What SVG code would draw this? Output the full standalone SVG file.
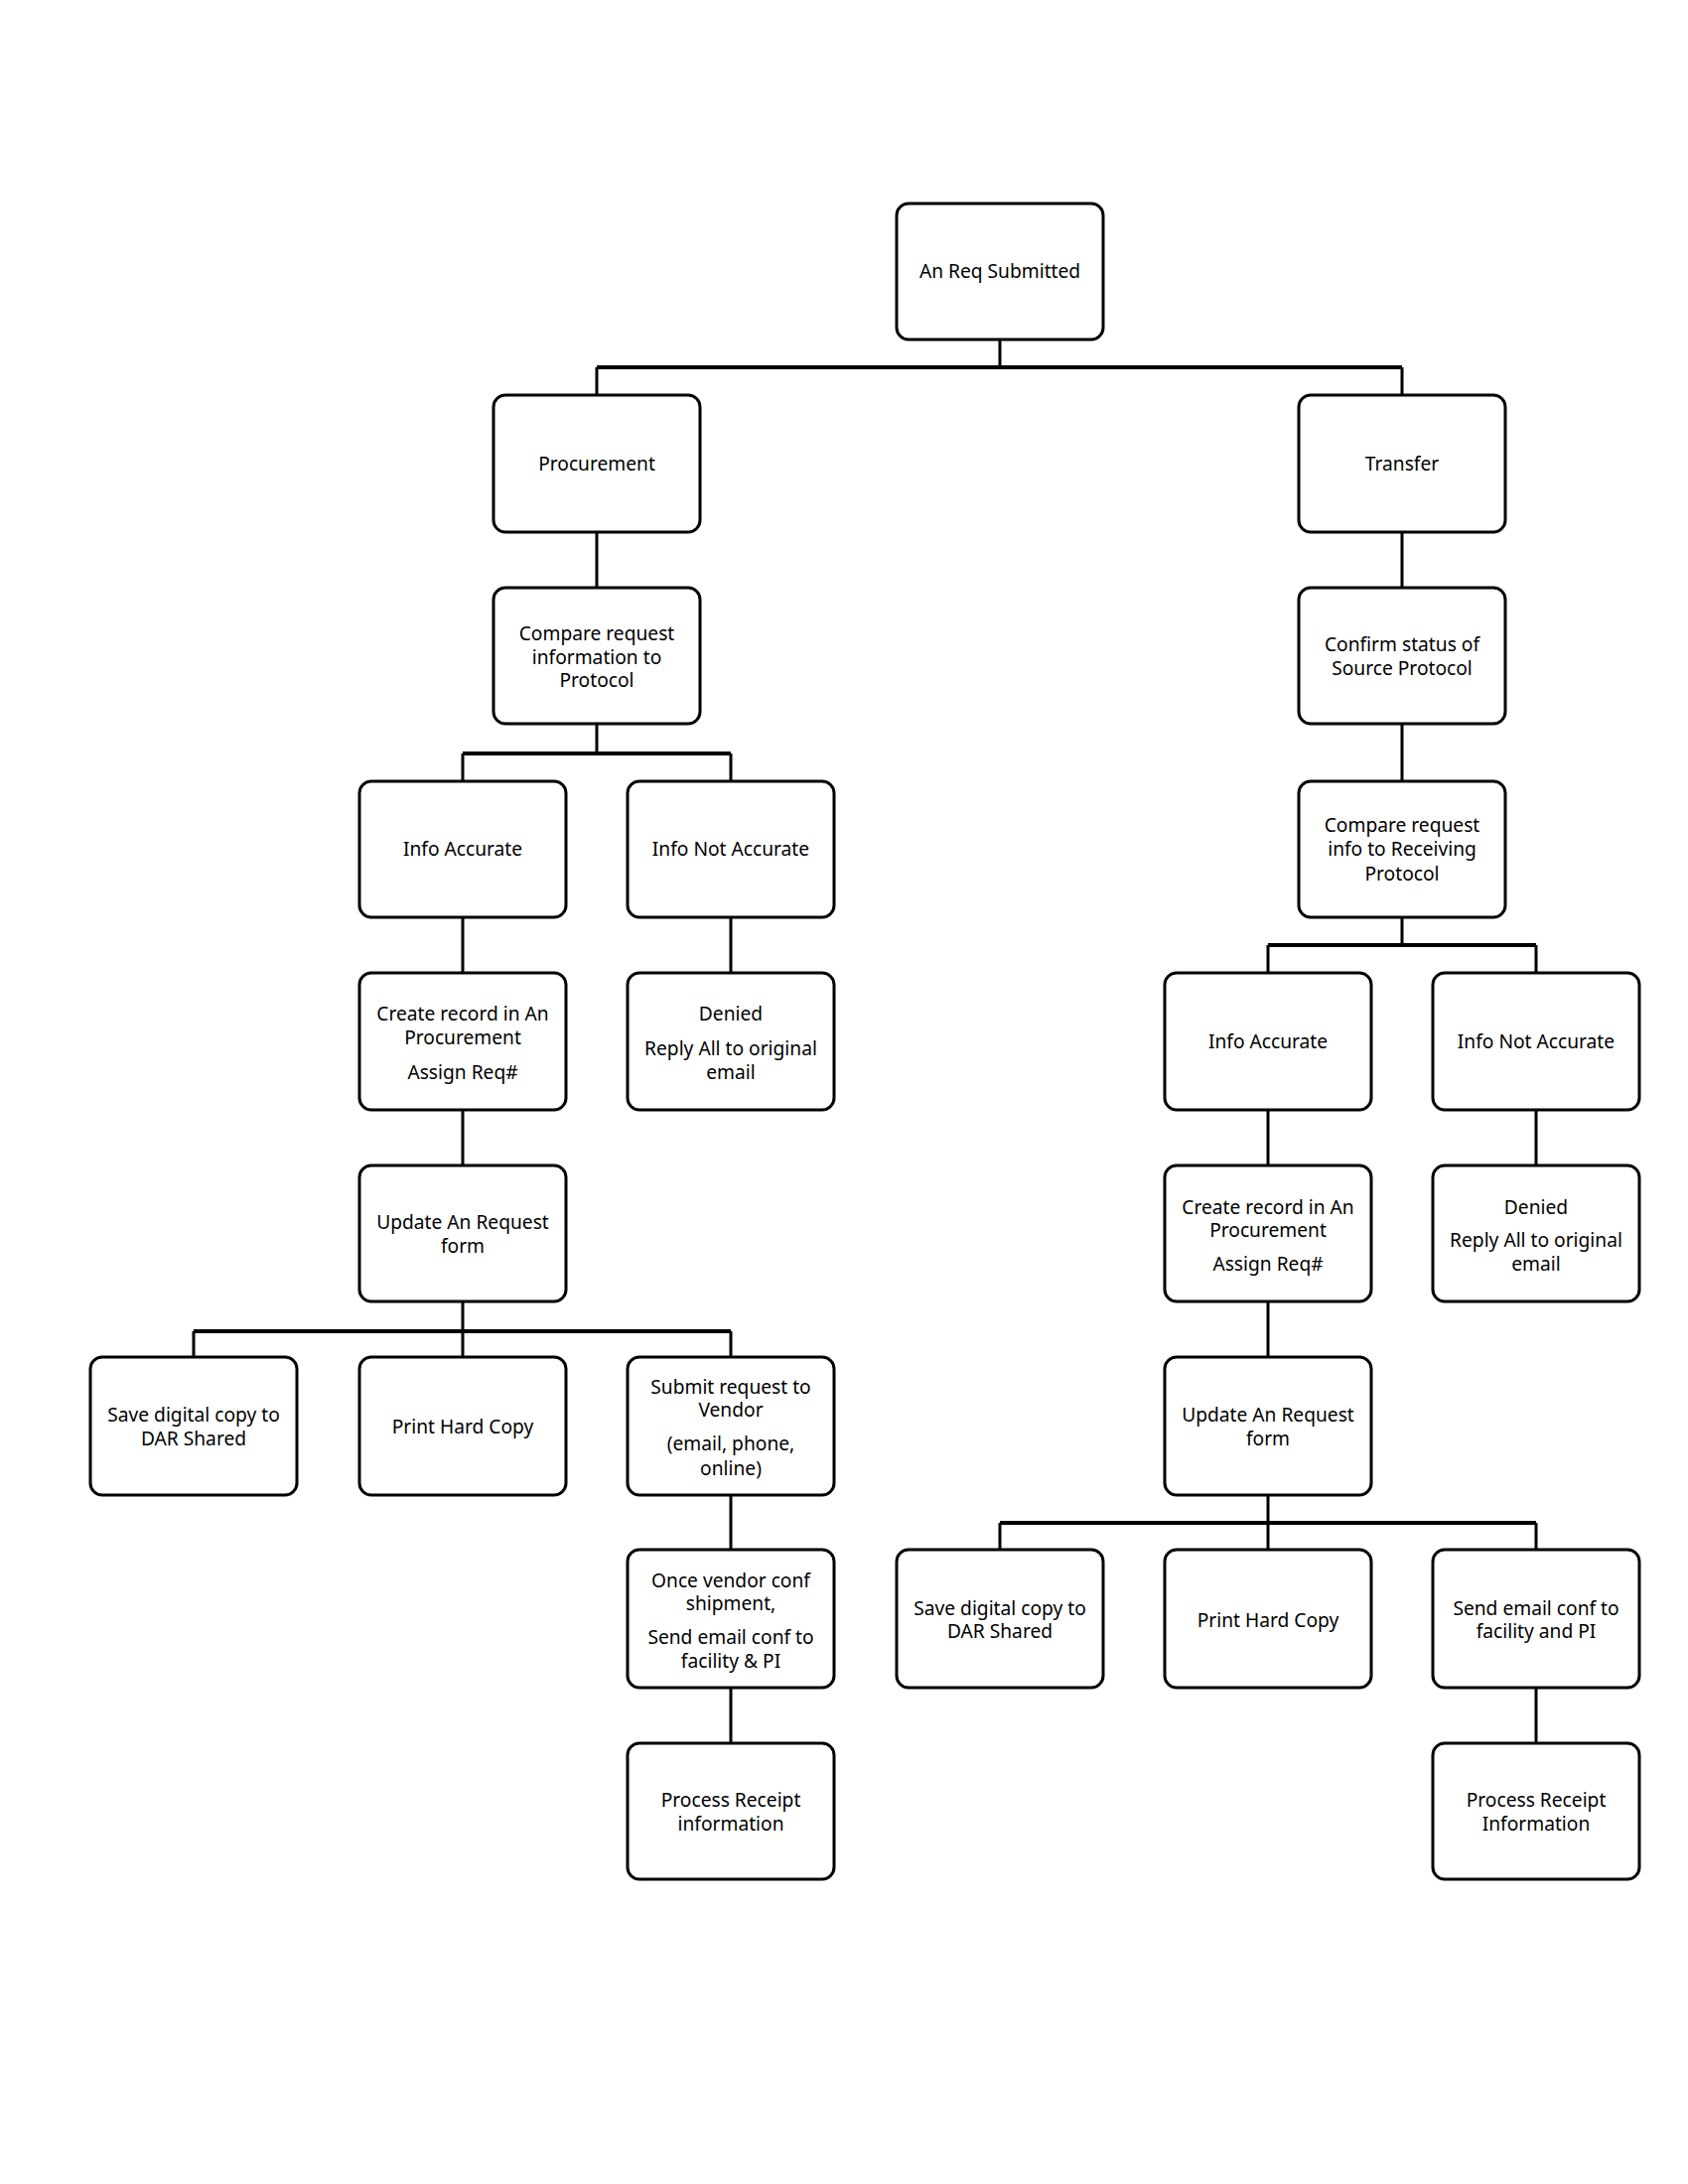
<svg xmlns="http://www.w3.org/2000/svg" width="1700" height="2200" viewBox="0 0 1700 2200">
<style>
.box{fill:#fff;stroke:#000;stroke-width:3}
.t{font-family:"Noto Sans","Open Sans",sans-serif;font-size:19.2px;fill:#000;text-anchor:middle;dominant-baseline:central}
.c{fill:none;stroke:#000;stroke-width:3}
.bus{fill:none;stroke:#000;stroke-width:4}
</style>
<rect width="1700" height="2200" fill="#fff"/>
<g id="connectors">
<path class="c" d="M1007 342V370M601 370V398M1412 370V398"/>
<path class="bus" d="M601 370H1412"/>
<path class="c" d="M601 536V592M601 729V759M466 759V787M736 759V787"/>
<path class="bus" d="M466 759H736"/>
<path class="c" d="M466 924V980M736 924V980M466 1118V1174M466 1311V1341M195 1341V1367M466 1341V1367M736 1341V1367"/>
<path class="bus" d="M195 1341H736"/>
<path class="c" d="M736 1506V1561M736 1700V1756"/>
<path class="c" d="M1412 536V592M1412 729V787M1412 924V952M1277 952V980M1547 952V980"/>
<path class="bus" d="M1277 952H1547"/>
<path class="c" d="M1277 1118V1174M1547 1118V1174M1277 1311V1367M1277 1506V1534M1007 1534V1561M1277 1534V1561M1547 1534V1561"/>
<path class="bus" d="M1007 1534H1547"/>
<path class="c" d="M1547 1700V1756"/>
</g>
<g id="n-submitted"><rect class="box" x="903" y="205" width="208" height="137" rx="12"/><text class="t" x="1007" y="272">An Req Submitted</text></g>
<g id="n-procurement"><rect class="box" x="497" y="398" width="208" height="138" rx="12"/><text class="t" x="601" y="466">Procurement</text></g>
<g id="n-transfer"><rect class="box" x="1308" y="398" width="208" height="138" rx="12"/><text class="t" x="1412" y="466">Transfer</text></g>
<g id="n-compare-l"><rect class="box" x="497" y="592" width="208" height="137" rx="12"/><text class="t" x="601" y="637">Compare request</text><text class="t" x="601" y="661">information to</text><text class="t" x="601" y="684">Protocol</text></g>
<g id="n-confirm"><rect class="box" x="1308" y="592" width="208" height="137" rx="12"/><text class="t" x="1412" y="648">Confirm status of</text><text class="t" x="1412" y="672">Source Protocol</text></g>
<g id="n-acc-l"><rect class="box" x="362" y="787" width="208" height="137" rx="12"/><text class="t" x="466" y="854">Info Accurate</text></g>
<g id="n-notacc-l"><rect class="box" x="632" y="787" width="208" height="137" rx="12"/><text class="t" x="736" y="854">Info Not Accurate</text></g>
<g id="n-compare-r"><rect class="box" x="1308" y="787" width="208" height="137" rx="12"/><text class="t" x="1412" y="830">Compare request</text><text class="t" x="1412" y="854">info to Receiving</text><text class="t" x="1412" y="879">Protocol</text></g>
<g id="n-create-l"><rect class="box" x="362" y="980" width="208" height="138" rx="12"/><text class="t" x="466" y="1020">Create record in An</text><text class="t" x="466" y="1044">Procurement</text><text class="t" x="466" y="1079">Assign Req#</text></g>
<g id="n-denied-l"><rect class="box" x="632" y="980" width="208" height="138" rx="12"/><text class="t" x="736" y="1020">Denied</text><text class="t" x="736" y="1055">Reply All to original</text><text class="t" x="736" y="1079">email</text></g>
<g id="n-acc-r"><rect class="box" x="1173" y="980" width="208" height="138" rx="12"/><text class="t" x="1277" y="1048">Info Accurate</text></g>
<g id="n-notacc-r"><rect class="box" x="1443" y="980" width="208" height="138" rx="12"/><text class="t" x="1547" y="1048">Info Not Accurate</text></g>
<g id="n-update-l"><rect class="box" x="362" y="1174" width="208" height="137" rx="12"/><text class="t" x="466" y="1230">Update An Request</text><text class="t" x="466" y="1254">form</text></g>
<g id="n-create-r"><rect class="box" x="1173" y="1174" width="208" height="137" rx="12"/><text class="t" x="1277" y="1215">Create record in An</text><text class="t" x="1277" y="1238">Procurement</text><text class="t" x="1277" y="1272">Assign Req#</text></g>
<g id="n-denied-r"><rect class="box" x="1443" y="1174" width="208" height="137" rx="12"/><text class="t" x="1547" y="1215">Denied</text><text class="t" x="1547" y="1248">Reply All to original</text><text class="t" x="1547" y="1272">email</text></g>
<g id="n-save-l"><rect class="box" x="91" y="1367" width="208" height="139" rx="12"/><text class="t" x="195" y="1424">Save digital copy to</text><text class="t" x="195" y="1448">DAR Shared</text></g>
<g id="n-print-l"><rect class="box" x="362" y="1367" width="208" height="139" rx="12"/><text class="t" x="466" y="1436">Print Hard Copy</text></g>
<g id="n-submit"><rect class="box" x="632" y="1367" width="208" height="139" rx="12"/><text class="t" x="736" y="1396">Submit request to</text><text class="t" x="736" y="1419">Vendor</text><text class="t" x="736" y="1453">(email, phone,</text><text class="t" x="736" y="1478">online)</text></g>
<g id="n-update-r"><rect class="box" x="1173" y="1367" width="208" height="139" rx="12"/><text class="t" x="1277" y="1424">Update An Request</text><text class="t" x="1277" y="1448">form</text></g>
<g id="n-once"><rect class="box" x="632" y="1561" width="208" height="139" rx="12"/><text class="t" x="736" y="1591">Once vendor conf</text><text class="t" x="736" y="1614">shipment,</text><text class="t" x="736" y="1648">Send email conf to</text><text class="t" x="736" y="1672">facility &amp; PI</text></g>
<g id="n-save-r"><rect class="box" x="903" y="1561" width="208" height="139" rx="12"/><text class="t" x="1007" y="1619">Save digital copy to</text><text class="t" x="1007" y="1642">DAR Shared</text></g>
<g id="n-print-r"><rect class="box" x="1173" y="1561" width="208" height="139" rx="12"/><text class="t" x="1277" y="1631">Print Hard Copy</text></g>
<g id="n-send-r"><rect class="box" x="1443" y="1561" width="208" height="139" rx="12"/><text class="t" x="1547" y="1619">Send email conf to</text><text class="t" x="1547" y="1642">facility and PI</text></g>
<g id="n-receipt-l"><rect class="box" x="632" y="1756" width="208" height="137" rx="12"/><text class="t" x="736" y="1812">Process Receipt</text><text class="t" x="736" y="1836">information</text></g>
<g id="n-receipt-r"><rect class="box" x="1443" y="1756" width="208" height="137" rx="12"/><text class="t" x="1547" y="1812">Process Receipt</text><text class="t" x="1547" y="1836">Information</text></g>
</svg>
